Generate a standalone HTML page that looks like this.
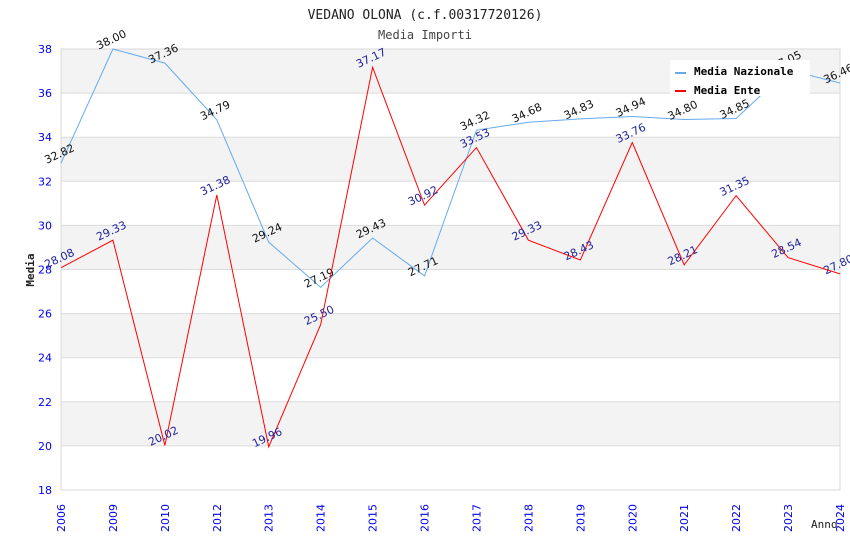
<!DOCTYPE html>
<html><head><meta charset="utf-8"><style>
body{margin:0;background:#fff}
svg{display:block;font-family:"DejaVu Sans Mono","Liberation Mono",monospace}
</style></head><body>
<svg id="c" width="850" height="550"></svg>
<script>
const categories=["2006","2009","2010","2012","2013","2014","2015","2016","2017","2018","2019","2020","2021","2022","2023","2024"];
const nazionale=[32.82,38.00,37.36,34.79,29.24,27.19,29.43,27.71,34.32,34.68,34.83,34.94,34.80,34.85,37.05,36.46];
const ente=[28.08,29.33,20.02,31.38,19.96,25.50,37.17,30.92,33.53,29.33,28.43,33.76,28.21,31.35,28.54,27.80];
const yTicks=[18,20,22,24,26,28,30,32,34,36,38];
const L=61,R=840,T=49,B=490,ymin=18,ymax=38;
const X=i=>L+i*(R-L)/(categories.length-1);
const Y=v=>B-(v-ymin)/(ymax-ymin)*(B-T);
const s=document.getElementById('c');const NS='http://www.w3.org/2000/svg';
function el(t,a,txt){const e=document.createElementNS(NS,t);for(const k in a)e.setAttribute(k,a[k]);if(txt!==undefined)e.textContent=txt;s.appendChild(e);return e;}
for(let i=0;i<yTicks.length-1;i++){
 const r=el('rect',{x:L,y:Y(yTicks[i+1]),width:R-L,height:Y(yTicks[i])-Y(yTicks[i+1]),fill:(i%2===1)?'#f3f3f3':'#fff'});
 
 
}
yTicks.forEach(v=>{
 const g=el('line',{x1:L,x2:R,y1:Y(v),y2:Y(v),stroke:'#dcdcdc'});
 
 
 const t=el('text',{x:L-9,y:Y(v)+4,'text-anchor':'end','font-size':11,fill:'#0000ee','font-family':'DejaVu Sans'},v);
 
 
});
el('rect',{x:L,y:T,width:R-L,height:B-T,fill:'none',stroke:'#d8d8d8'});
categories.forEach((c,i)=>{
 const t=el('text',{transform:`translate(${X(i)+4},${B+42}) rotate(-90)`,'font-size':11,fill:'#0000ee','font-family':'DejaVu Sans'},c);
 
 
});
function series(d,col,lcol,name){
 const p=el('polyline',{points:d.map((v,i)=>X(i)+','+Y(v)).join(' '),fill:'none',stroke:col,'stroke-width':1});
 
 
 d.forEach((v,i)=>{
  const t=el('text',{transform:`translate(${X(i)},${Y(v)-6}) rotate(-25)`,'text-anchor':'middle','font-size':11,fill:lcol,'font-family':'DejaVu Sans'},v.toFixed(2));
  
  
 });
}
series(nazionale,'#66aaee','#111','media-nazionale');
series(ente,'#ff0000','#222299','media-ente');
const lg=el('rect',{x:670,y:60,width:140,height:36,fill:'#fff'});


el('line',{x1:675,x2:686,y1:73,y2:73,stroke:'#66aaee','stroke-width':2});
el('line',{x1:675,x2:686,y1:91,y2:91,stroke:'#ff0000','stroke-width':2});
const l1=el('text',{x:694,y:75,'font-size':11,'font-weight':'bold',fill:'#000'},'Media Nazionale');


const l2=el('text',{x:694,y:94,'font-size':11,'font-weight':'bold',fill:'#000'},'Media Ente');


const t1=el('text',{x:425,y:19,'text-anchor':'middle','font-size':13,fill:'#222'},'VEDANO OLONA (c.f.00317720126)');


const t2=el('text',{x:425,y:39,'text-anchor':'middle','font-size':12,fill:'#444'},'Media Importi');


const ya=el('text',{transform:'translate(34,270) rotate(-90)','text-anchor':'middle','font-size':11,'font-weight':'bold',fill:'#222'},'Media');


const xa=el('text',{x:811,y:528,'font-size':11,fill:'#222'},'Anno');


</script>
</body></html>
